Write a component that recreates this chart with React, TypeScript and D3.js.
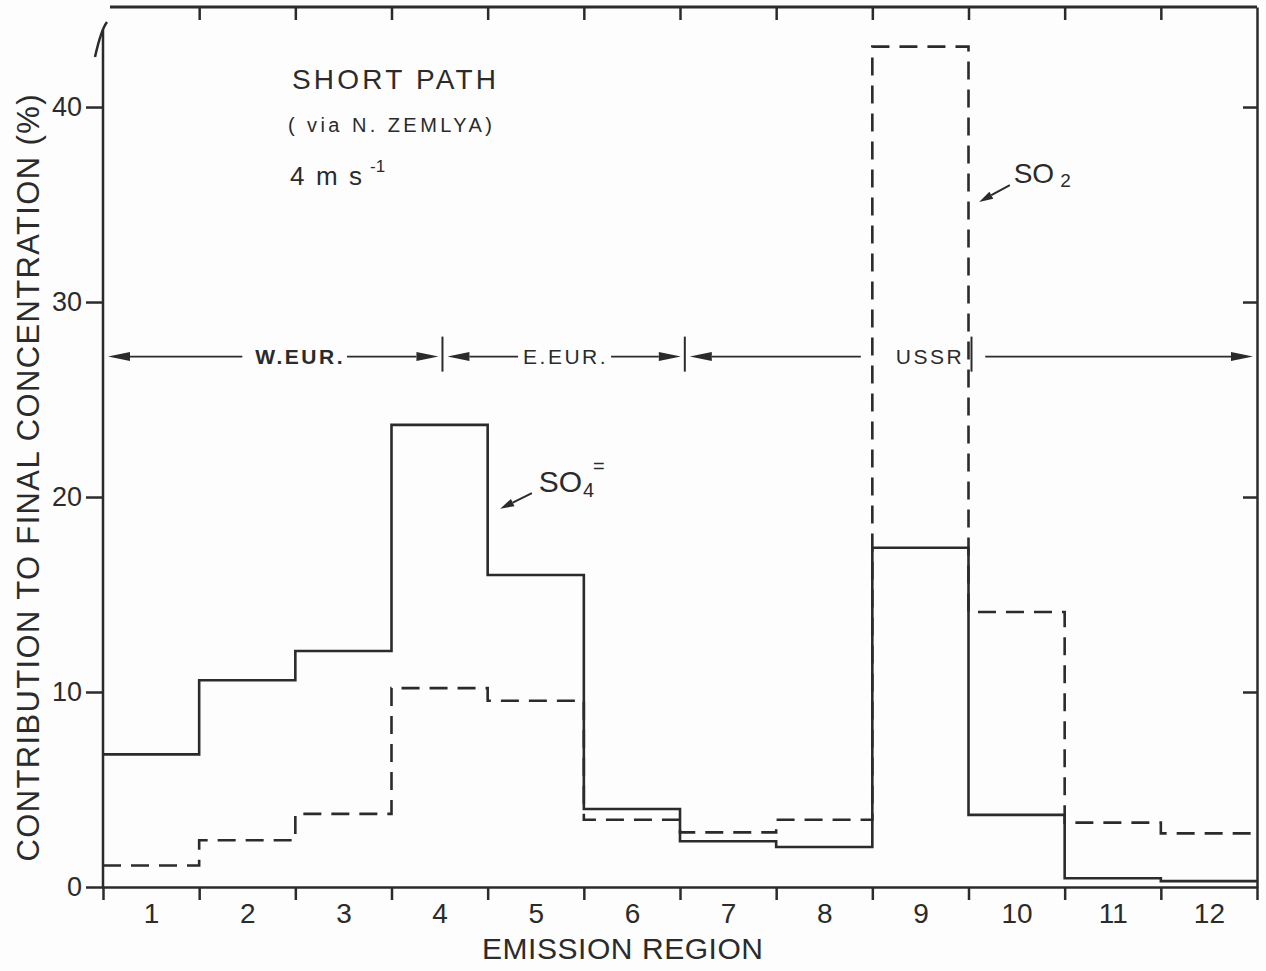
import React, { useEffect, useRef } from 'react';
import * as d3 from 'd3';

// emission regions 1..12 and their contribution (%) to the final concentration
const regions = [1, 2, 3, 4, 5, 6, 7, 8, 9, 10, 11, 12];
const so4Values = [6.8, 10.6, 12.1, 23.7, 16.0, 4.0, 2.35, 2.05, 17.4, 3.7, 0.45, 0.3];
const so2Values = [1.1, 2.4, 3.75, 10.2, 9.55, 3.45, 2.8, 3.45, 43.1, 14.1, 3.3, 2.75];
const yTicks = [0, 10, 20, 30, 40];

// region groups shown by the arrows across the plot
const groupNames = ['W.EUR.', 'E.EUR.', 'USSR'];
const groupFrom = [0.5, 4.03, 6.55];
const groupTo = [4.03, 6.55, 12.5];
const groupLabelAt = [2.55, 5.31, 9.1];
const groupLevel = 27.2;

const W = 1266;
const H = 971;
const INK = '#2b2b2b';
const FONT = '"Liberation Sans", "DejaVu Sans", sans-serif';

export default function App() {
  const svgRef = useRef<SVGSVGElement>(null);

  useEffect(() => {
    const svg = d3.select(svgRef.current);
    svg.selectAll('*').remove();

    const left = 103, right = 1257, top = 7, bottom = 887;
    const x = d3.scaleLinear().domain([0.5, 12.5]).range([left, right]);
    const y = d3.scaleLinear().domain([0, 45.13]).range([bottom, top]);

    const g = svg.append('g');
    const bounds = d3.range(0.5, 12.51, 1);
    const inner = bounds.slice(1, -1);

    const styleAxis = (sel: any, size: number) => {
      sel.attr('font-family', FONT).attr('font-size', size);
      sel.selectAll('line').attr('stroke', INK).attr('stroke-width', 2.5);
      sel.selectAll('path.domain').attr('stroke', INK).attr('stroke-width', 2.5);
      sel.selectAll('text').attr('fill', INK);
    };

    // bottom axis ticks at region boundaries
    const xb = g.append('g').attr('transform', `translate(0,${bottom})`)
      .call(d3.axisBottom(x).tickValues(bounds).tickSize(13).tickSizeOuter(0).tickFormat(() => ''));
    styleAxis(xb, 28);
    // region numbers
    const xl = g.append('g').attr('transform', `translate(0,${bottom})`)
      .call(d3.axisBottom(x).tickValues(regions).tickSize(0).tickPadding(16).tickFormat(d3.format('d')));
    xl.select('path.domain').remove();
    styleAxis(xl, 28);

    // top ticks pointing inward
    const xt = g.append('g').attr('transform', `translate(0,${top})`)
      .call(d3.axisTop(x).tickValues(inner).tickSize(-13).tickFormat(() => ''));
    xt.select('path.domain').remove();
    styleAxis(xt, 10);
    g.append('line').attr('x1', 110).attr('x2', right).attr('y1', top).attr('y2', top)
      .attr('stroke', INK).attr('stroke-width', 3);

    // left axis
    const yl = g.append('g').attr('transform', `translate(${left},0)`)
      .call(d3.axisLeft(y).tickValues(yTicks).tickSize(17).tickPadding(4).tickFormat(d3.format('d')));
    yl.select('path.domain').remove();
    styleAxis(yl, 27);
    g.append('line').attr('x1', left).attr('x2', left).attr('y1', 30).attr('y2', bottom)
      .attr('stroke', INK).attr('stroke-width', 2.5);
    g.append('path').attr('d', `M${left + 4},22 Q${left - 2},30 ${left - 8},57`)
      .attr('fill', 'none').attr('stroke', INK).attr('stroke-width', 2.5);

    // right axis ticks pointing inward
    const yr = g.append('g').attr('transform', `translate(${right},0)`)
      .call(d3.axisRight(y).tickValues(yTicks.slice(1)).tickSize(-14).tickSizeOuter(0).tickFormat(() => ''));
    styleAxis(yr, 10);

    // step lines
    const stepLine = d3.line<number>()
      .x((_, i) => x(i + 0.5))
      .y(d => y(d))
      .curve(d3.curveStepAfter);
    const withEnd = (vals: number[]) => [...vals, vals[vals.length - 1]];

    g.append('path').attr('d', stepLine(withEnd(so2Values)))
      .attr('fill', 'none').attr('stroke', INK).attr('stroke-width', 2.6)
      .attr('stroke-dasharray', '18,10');
    g.append('path').attr('d', stepLine(withEnd(so4Values)))
      .attr('fill', 'none').attr('stroke', INK).attr('stroke-width', 2.6);

    // arrow helper
    const arrow = (x1: number, y1: number, x2: number, y2: number, len = 22, half = 4.5, w = 1.8) => {
      const a = Math.atan2(y2 - y1, x2 - x1);
      const bx = x2 - len * Math.cos(a), by = y2 - len * Math.sin(a);
      g.append('line').attr('x1', x1).attr('y1', y1).attr('x2', bx).attr('y2', by)
        .attr('stroke', INK).attr('stroke-width', w);
      const p = [
        [x2, y2],
        [bx + half * Math.sin(a), by - half * Math.cos(a)],
        [bx - half * Math.sin(a), by + half * Math.cos(a)],
      ];
      g.append('path').attr('d', `M${p.map(q => q.join(',')).join('L')}Z`).attr('fill', INK);
    };

    // region groups
    const ay = y(groupLevel);
    const gaps = [[13, 2], [5, 3], [35, 21]];
    groupNames.forEach((name, i) => {
      const t = g.append('text').attr('x', x(groupLabelAt[i])).attr('y', ay + 7)
        .attr('text-anchor', 'middle').attr('font-family', FONT).attr('font-size', 21)
        .attr('letter-spacing', 2.5).attr('fill', INK)
        .attr('font-weight', i === 0 ? 'bold' : 'normal').text(name);
      const bb = (t.node() as SVGTextElement).getBBox();
      arrow(bb.x - gaps[i][0], ay, x(groupFrom[i]) + 5, ay, 22, 4.5);
      arrow(bb.x + bb.width + gaps[i][1], ay, x(groupTo[i]) - 4, ay, 22, 4.5);
    });
    [groupFrom[1], groupFrom[2], 9.5].forEach(v => {
      g.append('line').attr('x1', x(v) + (v === 9.5 ? 3 : 0)).attr('x2', x(v) + (v === 9.5 ? 3 : 0))
        .attr('y1', ay - 20).attr('y2', ay + 15).attr('stroke', INK).attr('stroke-width', 2);
    });

    // series labels
    const so4 = g.append('text').attr('x', x(5.03)).attr('y', y(20.26))
      .attr('font-family', FONT).attr('font-size', 30).attr('fill', INK);
    so4.append('tspan').text('SO');
    so4.append('tspan').attr('font-size', 20).attr('dy', 5).attr('dx', 1).text('4');
    so4.append('tspan').attr('font-size', 20).attr('dy', -24).attr('dx', -1).text('=');
    arrow(x(4.96), y(20.2), x(4.63), y(19.4), 14, 4, 2);

    const so2 = g.append('text').attr('x', x(9.97)).attr('y', y(36.1))
      .attr('font-family', FONT).attr('font-size', 28).attr('fill', INK);
    so2.append('tspan').text('SO');
    so2.append('tspan').attr('font-size', 19).attr('dy', 4).attr('dx', 6).text('2');
    arrow(x(9.93), y(36.0), x(9.61), y(35.13), 14, 4, 2);

    // header text
    g.append('text').attr('x', 292).attr('y', 89).attr('font-family', FONT).attr('font-size', 28)
      .attr('fill', INK).attr('textLength', 204).attr('lengthAdjust', 'spacing').text('SHORT PATH');
    g.append('text').attr('x', 288).attr('y', 132).attr('font-family', FONT).attr('font-size', 20)
      .attr('fill', INK).attr('textLength', 204).attr('lengthAdjust', 'spacing').text('( via N. ZEMLYA)');
    const speed = g.append('text').attr('x', 290).attr('y', 185).attr('font-family', FONT)
      .attr('font-size', 26).attr('fill', INK);
    speed.append('tspan').attr('textLength', 72).attr('lengthAdjust', 'spacing').text('4 m s');
    speed.append('tspan').attr('font-size', 17).attr('dy', -13).attr('dx', 6).text('-1');

    // axis titles
    g.append('text').attr('x', 482).attr('y', 959).attr('font-family', FONT).attr('font-size', 30)
      .attr('fill', INK).attr('textLength', 281).attr('lengthAdjust', 'spacing').text('EMISSION REGION');
    g.append('text').attr('transform', 'translate(39,478) rotate(-90)').attr('text-anchor', 'middle')
      .attr('font-family', FONT).attr('font-size', 31).attr('fill', INK)
      .attr('textLength', 767).attr('lengthAdjust', 'spacing')
      .text('CONTRIBUTION TO FINAL CONCENTRATION (%)');
  }, []);

  return (
    <svg ref={svgRef} width={W} height={H}
      style={{ position: 'absolute', left: 0, top: 0, background: '#fdfdfd' }} />
  );
}
